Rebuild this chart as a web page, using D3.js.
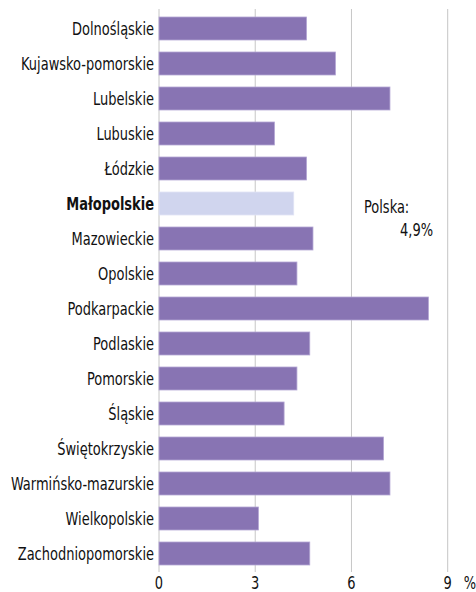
<!DOCTYPE html>
<html>
<head>
<meta charset="utf-8">
<script src="https://cdn.jsdelivr.net/npm/d3@7"></script>
<style>
  html, body { margin: 0; padding: 0; background: #fff; }
  svg { display: block; font-family: "DejaVu Sans Condensed", "Liberation Sans Narrow", sans-serif; }
</style>
</head>
<body>
<svg id="chart" width="476" height="592"></svg>
<script>
const regions = [
  "Dolnośląskie", "Kujawsko-pomorskie", "Lubelskie", "Lubuskie", "Łódzkie",
  "Małopolskie", "Mazowieckie", "Opolskie", "Podkarpackie", "Podlaskie",
  "Pomorskie", "Śląskie", "Świętokrzyskie", "Warmińsko-mazurskie",
  "Wielkopolskie", "Zachodniopomorskie"
];
const values = [4.6, 5.5, 7.2, 3.6, 4.6, 4.2, 4.8, 4.3, 8.4, 4.7, 4.3, 3.9, 7.0, 7.2, 3.1, 4.7];
const xTicks = [0, 3, 6, 9];
const highlight = "Małopolskie";
const noteLines = ["Polska:", "4,9%"];

const fontSize = 17;
const squeeze = 0.85; // narrow the fallback font to look condensed

const svg = d3.select("#chart");

const x = d3.scaleLinear().domain([0, 9]).range([159, 447.7]);
const y = d3.scaleBand()
  .domain(regions)
  .range([11, 571])
  .paddingInner(0.343)
  .paddingOuter(0.1715);

// put a text at (px, py) squeezed horizontally
function label(g, px, py, anchor, str, weight) {
  return g.append("text")
    .attr("transform", `translate(${px},${py}) scale(${squeeze},1)`)
    .attr("text-anchor", anchor)
    .attr("font-size", fontSize)
    .attr("font-weight", weight || "normal")
    .attr("fill", "#111")
    .text(str);
}

// grid
svg.append("g")
  .selectAll("line")
  .data(xTicks)
  .join("line")
  .attr("x1", d => x(d))
  .attr("x2", d => x(d))
  .attr("y1", 9)
  .attr("y2", 572)
  .attr("stroke", "#c6c6c6")
  .attr("stroke-width", 1);

// bars
svg.append("g")
  .selectAll("rect")
  .data(regions)
  .join("rect")
  .attr("x", x(0))
  .attr("y", d => y(d))
  .attr("width", (d, i) => x(values[i]) - x(0))
  .attr("height", y.bandwidth())
  .attr("fill", d => d === highlight ? "#d0d5ee" : "#8874b3")
  .attr("stroke", d => d === highlight ? "#e0e3f5" : "#b3a6d4")
  .attr("stroke-width", 0.8);

// category labels
const labels = svg.append("g");
regions.forEach(d => {
  label(labels, 154, y(d) + y.bandwidth() / 2 + 6, "end", d, d === highlight ? "bold" : "normal");
});

// x tick labels
const ticks = svg.append("g");
xTicks.forEach(d => label(ticks, x(d), 589, "middle", d));
label(ticks, 470, 589, "middle", "%");

// note
label(svg, 364, 213, "start", noteLines[0]);
label(svg, 433, 236, "end", noteLines[1]);
</script>
</body>
</html>
